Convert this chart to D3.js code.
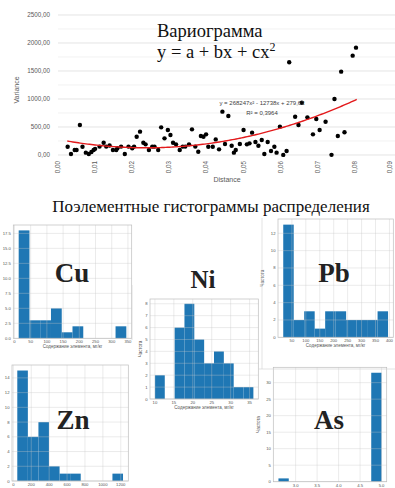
<!DOCTYPE html>
<html><head><meta charset="utf-8">
<script src="https://cdn.jsdelivr.net/npm/d3@7"></script>
<style>body{margin:0;background:#fff}svg{display:block}</style>
</head><body>
<svg id="c" width="395" height="488"></svg>
<script>
// ---- Variogram data ----
const varDistance = [0.0026,0.0035,0.0045,0.005,0.0059,0.0066,0.0075,0.0083,0.009,0.0096,0.010,0.0112,0.0123,0.013,0.0139,0.0148,0.0157,0.016,0.017,0.018,0.019,0.020,0.0205,0.0212,0.0221,0.023,0.0236,0.0245,0.0254,0.026,0.027,0.0278,0.0287,0.0296,0.0303,0.031,0.0318,0.0328,0.0336,0.0343,0.0353,0.0361,0.037,0.0378,0.0385,0.0392,0.0399,0.0405,0.0417,0.0425,0.0434,0.0443,0.045,0.0459,0.0468,0.0474,0.0479,0.049,0.050,0.0509,0.0516,0.0523,0.0532,0.054,0.0549,0.0556,0.0565,0.0574,0.0583,0.0589,0.0598,0.0607,0.0616,0.0623,0.0639,0.0648,0.0657,0.0672,0.0687,0.0696,0.0705,0.0721,0.0737,0.0745,0.0754,0.0763,0.0772,0.0794,0.0803];
const varValue = [148,18,89,89,536,148,42,18,54,89,110,150,220,150,170,89,89,120,150,18,150,120,150,327,417,220,190,89,150,150,89,494,297,446,357,220,190,89,150,150,190,458,150,57,339,327,369,148,148,279,101,774,196,696,166,42,89,196,446,190,208,399,232,166,268,18,232,71,148,42,506,2,71,1655,684,536,934,672,369,643,446,595,3,1000,339,1488,405,1774,1917];
const trendCoef = [279.63, -12738, 268247];
const varXTicks = [0,0.01,0.02,0.03,0.04,0.05,0.06,0.07,0.08,0.09];
const varYTicks = [0,500,1000,1500,2000,2500];

// ---- Histogram data ----
const cuCounts = [18,3,3,5,1,2,0,0,0,2];
const cuRange = [13,345];
const cuXTicks = [0,50,100,150,200,250,300,350];
const cuYTicks = [0,2.5,5,7.5,10,12.5,15,17.5];

const niCounts = [2,0,6,8,5,3,4,3,1,1];
const niRange = [10,36];
const niXTicks = [10,15,20,25,30,35];
const niYTicks = [0,1,2,3,4,5,6,7,8];

const pbCounts = [13,2,3,1,3,3,2,2,2,3];
const pbRange = [19,395];
const pbXTicks = [50,100,150,200,250,300,350,400];
const pbYTicks = [0,2,4,6,8,10,12];

const znCounts = [15,6,8,2,1,1,0,0,0,1];
const znRange = [44,1225];
const znXTicks = [0,200,400,600,800,1000,1200];
const znYTicks = [0,2,4,6,8,10,12,14];

const asCounts = [1,0,0,0,0,0,0,0,0,33];
const asRange = [2.6,5.0];
const asXTicks = [3.0,3.5,4.0,4.5,5.0];
const asYTicks = [0,5,10,15,20,25,30];

const svg = d3.select("#c");
const sans = "'Liberation Sans', Arial, sans-serif";
const serif = "'Liberation Serif', 'DejaVu Serif', serif";
const fmtRu = v => d3.format(".2f")(v).replace(".", ",");

// ================= Variogram =================
const vx = d3.scaleLinear().domain([0,0.09]).range([58,392]);
const vy = d3.scaleLinear().domain([0,2500]).range([155,15]);
const vg = svg.append("g");
vg.selectAll("line.g").data(d3.range(0,2501,250)).join("line")
  .attr("x1",vx(0)).attr("x2",395)
  .attr("y1",d=>vy(d)).attr("y2",d=>vy(d))
  .attr("stroke",d=>d%500===0?"#d9d9d9":"#ececec").attr("stroke-width",0.7);
vg.selectAll("text.yl").data(varYTicks).join("text")
  .attr("x",50).attr("y",d=>vy(d)+2).attr("text-anchor","end")
  .attr("font-family",sans).attr("font-size",6.3).attr("fill","#595959")
  .text(d=>fmtRu(d));
vg.selectAll("text.xl").data(varXTicks).join("text")
  .attr("transform",d=>`translate(${Math.min(vx(d)+2,392)},161) rotate(-90)`)
  .attr("text-anchor","end")
  .attr("font-family",sans).attr("font-size",6.3).attr("fill","#595959")
  .text(d=>fmtRu(d));
vg.append("text").attr("transform","translate(19,90) rotate(-90)")
  .attr("text-anchor","middle").attr("font-family",sans).attr("font-size",7)
  .attr("fill","#595959").text("Variance");
vg.append("text").attr("x",227).attr("y",182).attr("text-anchor","middle")
  .attr("font-family",sans).attr("font-size",7).attr("fill","#595959").text("Distance");
vg.selectAll("circle").data(varDistance.map((d,i)=>[d,varValue[i]])).join("circle")
  .attr("cx",d=>vx(d[0])).attr("cy",d=>vy(d[1])).attr("r",2.2).attr("fill","#000");
const tx = d3.range(0.0025,0.0806,0.0005);
const trend = x => trendCoef[0] + trendCoef[1]*x + trendCoef[2]*x*x;
vg.append("path").datum(tx)
  .attr("d",d3.line().x(d=>vx(d)).y(d=>vy(trend(d))))
  .attr("fill","none").attr("stroke","#e31a1c").attr("stroke-width",1.4);
vg.append("text").attr("x",262).attr("y",105).attr("text-anchor","middle")
  .attr("font-family",sans).attr("font-size",6).attr("fill","#404040")
  .text("y = 268247x² - 12738x + 279,63");
vg.append("text").attr("x",262).attr("y",115).attr("text-anchor","middle")
  .attr("font-family",sans).attr("font-size",6).attr("fill","#404040")
  .text("R² = 0,3964");
vg.append("text").attr("x",157).attr("y",37).attr("font-family",serif)
  .attr("font-size",18.5).attr("fill","#111").text("Вариограмма");
vg.append("text").attr("x",157).attr("y",58).attr("font-family",serif)
  .attr("font-size",18.5).attr("fill","#111").html("y = a + bx + cx<tspan dy='-7' font-size='12'>2</tspan>");

svg.append("text").attr("x",211).attr("y",212).attr("text-anchor","middle")
  .attr("font-family",serif).attr("font-size",17).attr("fill","#111")
  .text("Поэлементные гистограммы распределения");

// ================= Histograms =================
function hist(o){
  const g = svg.append("g");
  const n = o.counts.length;
  const w = (o.range[1]-o.range[0])/n;
  const m = (o.range[1]-o.range[0])*0.05;
  const x = d3.scaleLinear().domain([o.range[0]-m,o.range[1]+m]).range([o.l,o.r]);
  const y = d3.scaleLinear().domain([0,d3.max(o.counts)*1.05]).range([o.b,o.t]);
  g.append("rect").attr("x",o.l).attr("y",o.t).attr("width",o.r-o.l).attr("height",o.b-o.t)
    .attr("fill","#fff");
  g.selectAll("rect.bar").data(o.counts).join("rect")
    .attr("x",(d,i)=>x(o.range[0]+i*w)).attr("width",(d,i)=>x(o.range[0]+(i+1)*w)-x(o.range[0]+i*w))
    .attr("y",d=>y(d)).attr("height",d=>o.b-y(d)).attr("fill","#1f77b4");
  g.selectAll("line.gx").data(o.xt.filter(v=>x(v)>=o.l&&x(v)<=o.r)).join("line")
    .attr("x1",d=>x(d)).attr("x2",d=>x(d)).attr("y1",o.t).attr("y2",o.b)
    .attr("stroke","#c8c8c8").attr("stroke-opacity",0.6).attr("stroke-width",0.6);
  g.selectAll("line.gy").data(o.yt).join("line")
    .attr("x1",o.l).attr("x2",o.r).attr("y1",d=>y(d)).attr("y2",d=>y(d))
    .attr("stroke","#c8c8c8").attr("stroke-opacity",0.6).attr("stroke-width",0.6);
  g.append("rect").attr("x",o.l).attr("y",o.t).attr("width",o.r-o.l).attr("height",o.b-o.t)
    .attr("fill","none").attr("stroke","#bdbdbd").attr("stroke-width",0.7);
  const fs = 4.2;
  g.selectAll("text.yt").data(o.yt).join("text")
    .attr("x",o.l-2.5).attr("y",d=>y(d)+1.5).attr("text-anchor","end")
    .attr("font-family",sans).attr("font-size",fs).attr("fill","#555")
    .text(d=>o.yf?o.yf(d):d);
  g.selectAll("text.xt").data(o.xt).join("text")
    .attr("x",d=>x(d)).attr("y",o.b+5).attr("text-anchor","middle")
    .attr("font-family",sans).attr("font-size",fs).attr("fill","#555")
    .text(d=>o.xf?o.xf(d):d);
  if(!o.noXLab){
    g.append("text").attr("x",(o.l+o.r)/2).attr("y",o.b+10).attr("text-anchor","middle")
      .attr("font-family",sans).attr("font-size",fs+0.3).attr("fill","#555")
      .text("Содержание элемента, мг/кг");
  }
  if(o.ylab){
    g.append("text").attr("transform",`translate(${o.ylx},${(o.t+o.b)/2}) rotate(-90)`)
      .attr("text-anchor","middle").attr("font-family",sans).attr("font-size",fs+0.3)
      .attr("fill","#555").text("Частота");
  }
  g.append("text").attr("x",o.lx).attr("y",o.ly).attr("text-anchor","middle")
    .attr("font-family",serif).attr("font-weight","bold").attr("font-size",o.lfs||27)
    .attr("fill","#222").text(o.name);
}

hist({counts:cuCounts,range:cuRange,xt:cuXTicks,yt:cuYTicks,l:13.3,r:131.7,t:225,b:338.3,
  yf:d=>d3.format(".1f")(d),name:"Cu",lx:72,ly:282});
hist({counts:niCounts,range:niRange,xt:niXTicks,yt:niYTicks,l:150,r:258.3,t:299,b:399,
  name:"Ni",lx:203,ly:288,lfs:25,ylab:true,ylx:142});
hist({counts:pbCounts,range:pbRange,xt:pbXTicks,yt:pbYTicks,l:278,r:393.3,t:219,b:337.3,
  name:"Pb",lx:334,ly:282,ylab:true,ylx:264});
hist({counts:znCounts,range:znRange,xt:znXTicks,yt:znYTicks,l:12,r:128.3,t:365,b:481,
  name:"Zn",lx:73,ly:429,noXLab:true});
hist({counts:asCounts,range:asRange,xt:asXTicks,yt:asYTicks,l:273.3,r:386.7,t:367.3,b:481.7,
  xf:d=>d3.format(".1f")(d),name:"As",lx:329,ly:429,ylab:true,ylx:260,noXLab:true});

const frames = [[132,285,132,340],[262,218,262,369],[258,369,395,369]];
svg.selectAll("line.fr").data(frames).join("line")
  .attr("x1",d=>d[0]).attr("y1",d=>d[1]).attr("x2",d=>d[2]).attr("y2",d=>d[3])
  .attr("stroke","#d0d0d0").attr("stroke-width",0.6);
</script>
</body></html>
